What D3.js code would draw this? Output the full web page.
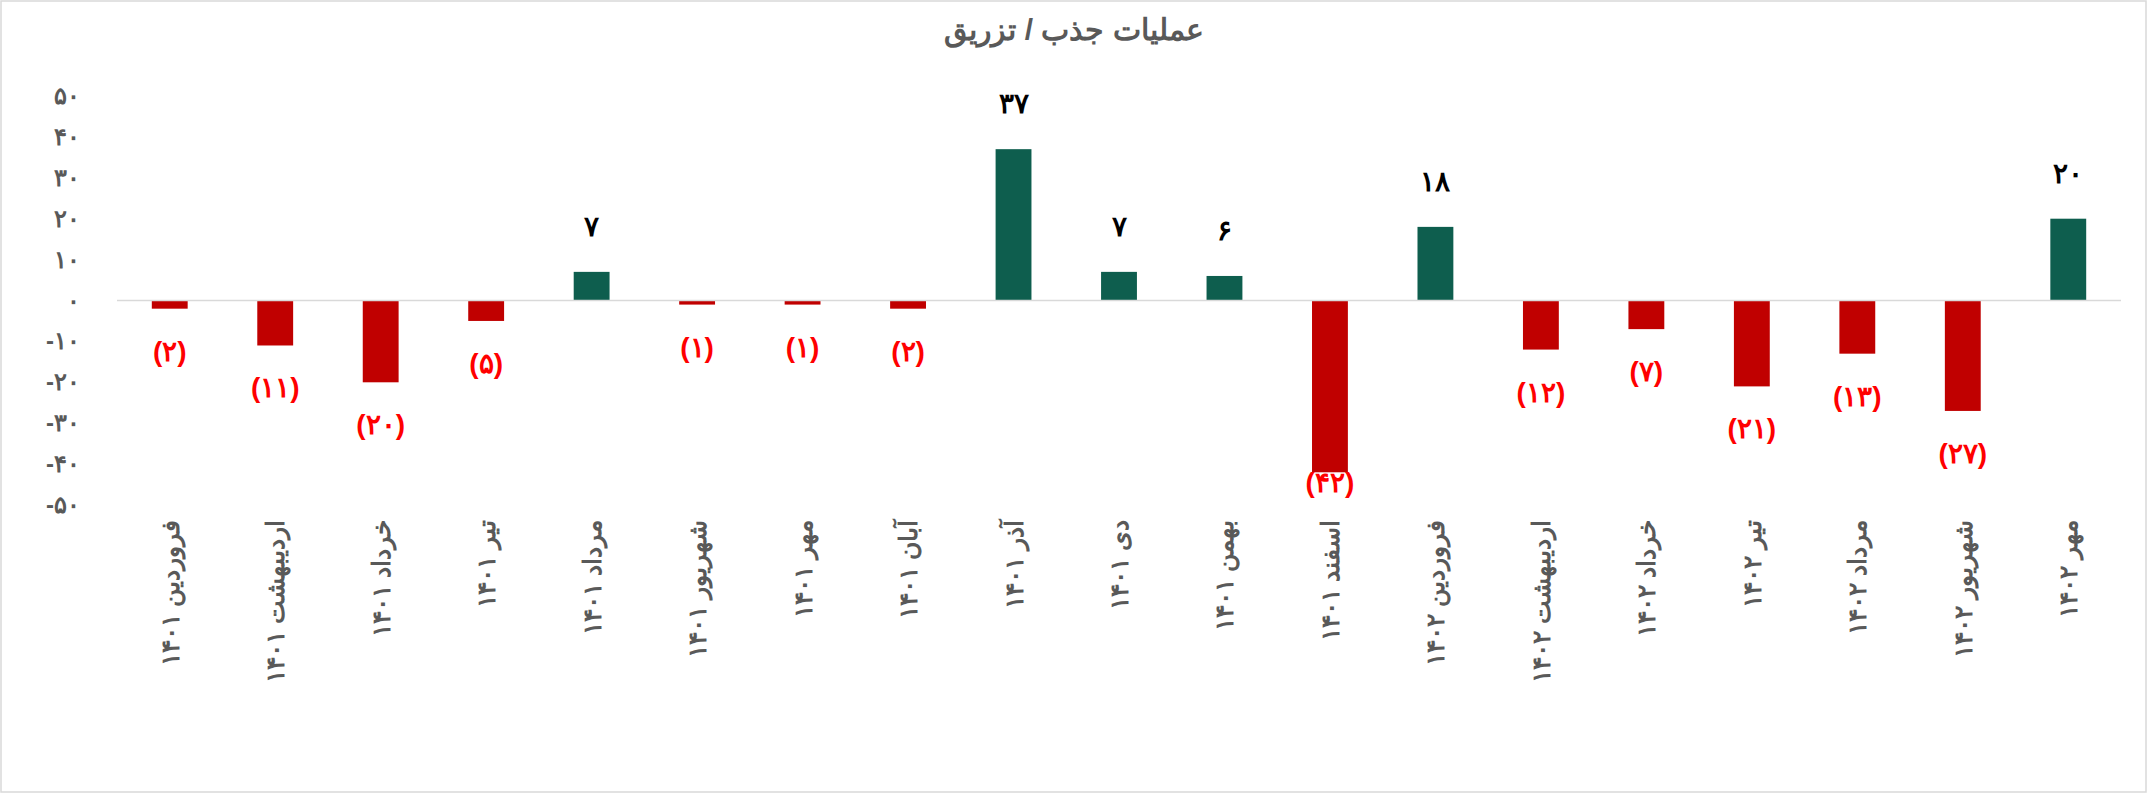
<!DOCTYPE html>
<html><head><meta charset="utf-8">
<script src="https://cdn.jsdelivr.net/npm/d3@7"></script>
<style>body{margin:0;background:#fff}svg{display:block}</style>
</head><body>
<svg id="c" width="2147" height="793"></svg>
<script>
const months = ["فروردین","اردیبهشت","خرداد","تیر","مرداد","شهریور","مهر","آبان","آذر","دی","بهمن","اسفند","فروردین","اردیبهشت","خرداد","تیر","مرداد","شهریور","مهر"];
const years = ["۱۴۰۱","۱۴۰۱","۱۴۰۱","۱۴۰۱","۱۴۰۱","۱۴۰۱","۱۴۰۱","۱۴۰۱","۱۴۰۱","۱۴۰۱","۱۴۰۱","۱۴۰۱","۱۴۰۲","۱۴۰۲","۱۴۰۲","۱۴۰۲","۱۴۰۲","۱۴۰۲","۱۴۰۲"];
const values = [-2,-11,-20,-5,7,-1,-1,-2,37,7,6,-42,18,-12,-7,-21,-13,-27,20];
const yTicks = [50,40,30,20,10,0,-10,-20,-30,-40,-50];
const title = "عملیات جذب / تزریق";

const fa = n => String(n).replace(/\d/g, d => "۰۱۲۳۴۵۶۷۸۹"[d]);
const svg = d3.select("#c");
svg.append("rect").attr("x",1).attr("y",1).attr("width",2145).attr("height",791).attr("fill","#fff").attr("stroke","#d9d9d9").attr("stroke-width",1.5);
svg.append("text").attr("x",1074).attr("y",40).attr("text-anchor","middle").attr("font-family","Arial, Liberation Sans, sans-serif").attr("font-weight","bold").attr("font-size",30).attr("fill","#595959").text(title);

const y = d3.scaleLinear().domain([-50,50]).range([505,96]);
const x = d3.scaleBand().domain(d3.range(values.length)).range([117,2121]).paddingInner(0.66).paddingOuter(0.33);

const g = svg.append("g").attr("font-family","Arial, Liberation Sans, sans-serif").attr("font-weight","bold");
g.selectAll(".yt").data(yTicks).enter().append("text").attr("x",80).attr("y",d=>y(d)+8).attr("text-anchor","end").attr("font-size",24).attr("fill","#595959").text(d=> d<0 ? "-"+fa(-d) : fa(d));

g.selectAll(".bar").data(values).enter().append("rect")
 .attr("x",(d,i)=>x(i)).attr("width",x.bandwidth())
 .attr("y",d=>y(Math.max(0,d))).attr("height",d=>Math.abs(y(d)-y(0)))
 .attr("fill",d=>d>=0?"#0e5e4e":"#c00000");
g.append("line").attr("x1",117).attr("x2",2121).attr("y1",y(0)).attr("y2",y(0)).attr("stroke","#d9d9d9").attr("stroke-width",1.5);

g.selectAll(".lbl").data(values).enter().append("text")
 .attr("x",(d,i)=>x(i)+x.bandwidth()/2)
 .attr("y",d=> d>=0 ? y(d)-36 : Math.min(y(d)+52, 492))
 .attr("text-anchor","middle").attr("font-size",28).attr("letter-spacing",3)
 .attr("fill",d=>d>=0?"#000":"#ff0000")
 .text(d=> d>=0 ? fa(d) : "("+fa(-d)+")");

g.selectAll(".xl").data(values).enter().append("text")
 .attr("transform",(d,i)=>`translate(${x(i)+x.bandwidth()/2+9},520) rotate(-90)`)
 .attr("text-anchor","end").attr("font-size",25).attr("fill","#595959")
 .text((d,i)=>months[i]+" "+years[i]);
</script>
</body></html>
